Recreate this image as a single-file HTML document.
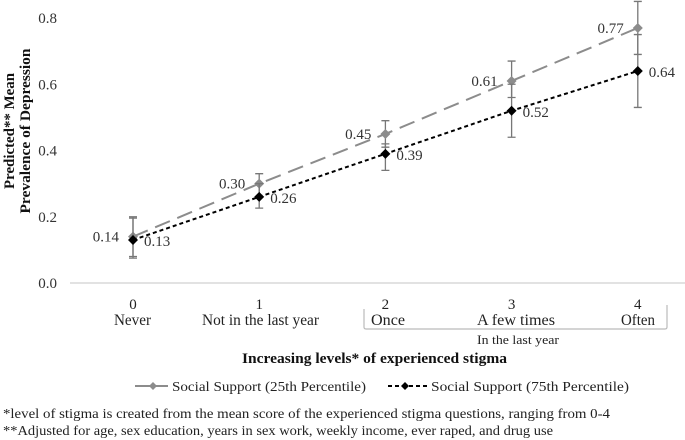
<!DOCTYPE html>
<html><head><meta charset="utf-8"><style>
html,body{margin:0;padding:0;background:#fff}
svg{display:block;font-family:"Liberation Serif",serif}
</style></head><body>
<svg id="chart" width="685" height="440" viewBox="0 0 685 440">
<g id="axes"></g>
<g id="marks"></g>
<g font-size="16" fill="#222">
<text x="114" y="325" textLength="37" lengthAdjust="spacingAndGlyphs">Never</text>
<text x="202" y="325" textLength="117" lengthAdjust="spacingAndGlyphs">Not in the last year</text>
<text x="371" y="325" textLength="34" lengthAdjust="spacingAndGlyphs">Once</text>
<text x="477" y="325" textLength="78" lengthAdjust="spacingAndGlyphs">A few times</text>
<text x="621" y="325" textLength="34" lengthAdjust="spacingAndGlyphs">Often</text>
</g>
<path d="M364,309 V327 Q364,329 366,329 H665 Q667,329 667,327 V305" fill="none" stroke="#bbb" stroke-width="1.2"/>
<text x="477" y="344" font-size="13" textLength="82" lengthAdjust="spacingAndGlyphs" fill="#222">In the last year</text>
<text x="242" y="363" font-size="15" font-weight="bold" textLength="265" lengthAdjust="spacingAndGlyphs" fill="#111">Increasing levels* of experienced stigma</text>
<g transform="translate(0,131) rotate(-90)" font-size="15" font-weight="bold" text-anchor="middle" fill="#111">
<text x="0" y="14" textLength="116" lengthAdjust="spacingAndGlyphs">Predicted** Mean</text>
<text x="0" y="30" textLength="165" lengthAdjust="spacingAndGlyphs">Prevalence of Depression</text>
</g>
<g font-size="14" fill="#222">
<g>
<line x1="135" y1="386" x2="168" y2="386" stroke="#8c8c8c" stroke-width="2"/>
<path d="M153,382 L157,386 L153,390 L149,386Z" fill="#8c8c8c"/>
<text x="172" y="391" textLength="194" lengthAdjust="spacingAndGlyphs">Social Support (25th Percentile)</text>
</g>
<g>
<line x1="388" y1="386" x2="427" y2="386" stroke="#000" stroke-width="2" stroke-dasharray="4,3"/>
<path d="M405,382 L409,386 L405,390 L401,386Z" fill="#000"/>
<text x="431" y="391" textLength="198" lengthAdjust="spacingAndGlyphs">Social Support (75th Percentile)</text>
</g>
</g>
<g font-size="14" fill="#222">
<text x="3" y="418" textLength="607" lengthAdjust="spacingAndGlyphs">*level of stigma is created from the mean score of the experienced stigma questions, ranging from 0-4</text>
<text x="3" y="435" textLength="550" lengthAdjust="spacingAndGlyphs">**Adjusted for age, sex education, years in sex work, weekly income, ever raped, and drug use</text>
</g>
</svg>
<script>
const categories = ["0","1","2","3","4"];
const yTicks = [0,0.2,0.4,0.6,0.8];
const yTickLabels = ["0.0","0.2","0.4","0.6","0.8"];
const s25 = [0.14,0.30,0.45,0.61,0.77];
const s25Lo = [0.08,0.26,0.41,0.56,0.69];
const s25Hi = [0.20,0.33,0.49,0.67,0.85];
const s25Labels = ["0.14","0.30","0.45","0.61","0.77"];
const s75 = [0.13,0.26,0.39,0.52,0.64];
const s75Lo = [0.075,0.226,0.34,0.44,0.53];
const s75Hi = [0.196,0.30,0.42,0.60,0.75];
const s75Labels = ["0.13","0.26","0.39","0.52","0.64"];

const NS="http://www.w3.org/2000/svg";
function X(i){return 133+i*126.2;}
function Y(v){return 283-v*331.25;}
function mk(tag,attrs,parent){const e=document.createElementNS(NS,tag);for(const k in attrs)e.setAttribute(k,attrs[k]);parent.appendChild(e);return e;}
const axes=document.getElementById('axes');
const marks=document.getElementById('marks');
const base=mk('line',{x1:70,y1:Y(0),x2:685,y2:Y(0),stroke:'#d9d9d9','stroke-width':1.5},axes);


yTicks.forEach((t,i)=>{
  const tx=mk('text',{x:57,y:Y(t)+5,'font-size':15,'text-anchor':'end',fill:'#333'},axes);
  tx.textContent=yTickLabels[i];
  
  
});
categories.forEach((c,i)=>{
  const tx=mk('text',{x:X(i),y:309,'font-size':15,'text-anchor':'middle',fill:'#222'},axes);
  tx.textContent=c;
  
  
});
function series(vals,lo,hi,labels,color,dash,name,labelLeft){
  const g=mk('g',{},marks);
  
  
  lo.forEach((l,i)=>{
    const x=X(i);
    const eb=mk('path',{d:`M${x},${Y(l)} V${Y(hi[i])} M${x-4},${Y(l)} H${x+4} M${x-4},${Y(hi[i])} H${x+4}`,stroke:'#777','stroke-width':1.3,fill:'none'},g);
    
    
  });
  const pts=vals.map((v,i)=>X(i)+','+Y(v)).join(' ');
  const ln=mk('polyline',{points:pts,fill:'none',stroke:color,'stroke-width':2,'stroke-dasharray':dash},g);
  
  
  vals.forEach((v,i)=>{
    const x=X(i),y=Y(v);
    const p=mk('path',{d:`M${x},${y-5} L${x+5},${y} L${x},${y+5} L${x-5},${y}Z`,fill:color},g);
    
    
    const t=mk('text',{x:labelLeft?x-14:x+11,y:labelLeft?y+5:y+6,'font-size':15,'text-anchor':labelLeft?'end':'start',fill:'#333'},g);
    t.textContent=labels[i];
    
    
  });
}
series(s25,s25Lo,s25Hi,s25Labels,'#8c8c8c','16,8','series-25th-percentile',true);
series(s75,s75Lo,s75Hi,s75Labels,'#000','4,3','series-75th-percentile',false);
</script>
</body></html>
